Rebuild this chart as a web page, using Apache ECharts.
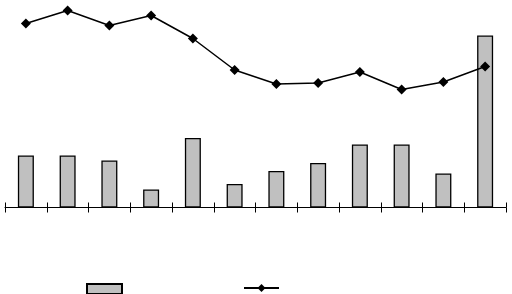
<!DOCTYPE html>
<html><head><meta charset="utf-8">
<script src="https://cdn.jsdelivr.net/npm/echarts@6/dist/echarts.min.js"></script>
<style>html,body{margin:0;padding:0;background:#fff}#c{width:512px;height:294px}</style>
</head><body><div id="c"></div>
<script>
const categories = ['1','2','3','4','5','6','7','8','9','10','11','12'];
const barValues = [52, 52, 47, 18, 69.5, 23.5, 36.5, 44.5, 63, 63, 34, 172];
const lineValues = [184, 197, 182, 192, 169, 137.5, 123.5, 124.5, 135.5, 118, 125.5, 141];
const barName = 'A';
const lineName = 'B';

const chart = echarts.init(document.getElementById('c'), null, {renderer: 'canvas'});
chart.setOption({
  animation: false,
  backgroundColor: '#fff',
  grid: {left: 5, right: 6, top: 7.5, height: 200},
  xAxis: [
    {type: 'category', data: categories, boundaryGap: true,
     axisLine: {lineStyle: {color: '#000', width: 1}},
     axisTick: {show: true, length: 5, lineStyle: {color: '#000'}},
     axisLabel: {show: false}},
    {type: 'category', data: categories, boundaryGap: true, position: 'bottom',
     axisLine: {show: false},
     axisTick: {show: true, inside: true, length: 5, lineStyle: {color: '#000'}},
     axisLabel: {show: false}}
  ],
  yAxis: {type: 'value', min: 0, max: 200, show: false, splitLine: {show: false}},
  legend: [
    {left: 86, top: 283, padding: 0, itemWidth: 35, itemHeight: 10,
     data: [{name: barName, icon: 'rect'}], formatter: () => '', textStyle: {fontSize: 1}},
    {left: 243, top: 283, padding: 0, itemWidth: 35, itemHeight: 10,
     data: [lineName], formatter: () => '', textStyle: {fontSize: 1}}
  ],
  series: [
    {name: barName, type: 'bar', data: barValues, barWidth: 16, barGap: '0%',
     itemStyle: {color: '#c0c0c0', borderColor: '#000', borderWidth: 1.3}},
    {name: lineName, type: 'line', data: lineValues, symbol: 'diamond', symbolSize: 10,
     itemStyle: {color: '#000'}, lineStyle: {color: '#000', width: 1.5}}
  ]
});
</script></body></html>
